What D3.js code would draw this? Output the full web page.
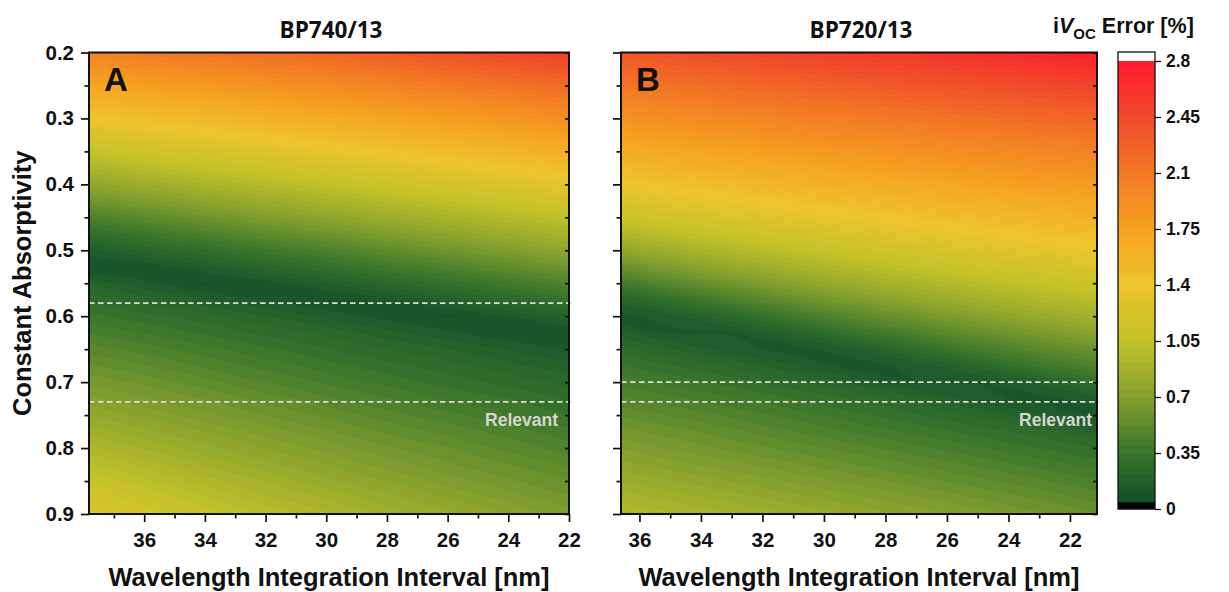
<!DOCTYPE html>
<html>
<head>
<meta charset="utf-8">
<script src="https://cdn.jsdelivr.net/npm/d3@7"></script>
<style>
  body { margin: 0; background: #fff; }
  svg { display: block; }
  text { font-family: "Liberation Sans", Arial, sans-serif; font-weight: bold; fill: #111; }
</style>
</head>
<body>
<svg id="chart" width="1229" height="592"></svg>
<script>
// ---- data -------------------------------------------------------------
// sampled constant absorptivity (rows, top to bottom)
const absorptivity = [0.2, 0.225, 0.25, 0.275, 0.3, 0.325, 0.35, 0.375, 0.4, 0.425,
  0.45, 0.475, 0.5, 0.525, 0.55, 0.575, 0.6, 0.625, 0.65, 0.675,
  0.7, 0.725, 0.75, 0.775, 0.8, 0.825, 0.85, 0.875, 0.9];

// sampled wavelength integration intervals [nm] (columns)
const intervalA = [38, 36, 34, 32, 30, 28, 26, 24, 22];
const intervalB = [37, 35, 33, 31, 29, 27, 25, 23, 21];

// iVoc error [%] for BP740/13, one array per interval column, following `absorptivity`
const errorA = [
  [2.02, 1.86, 1.70, 1.55, 1.39, 1.23, 1.07, 0.91, 0.76, 0.60, 0.44, 0.29, 0.15, 0.09, 0.21, 0.30, 0.37, 0.44, 0.51, 0.58, 0.65, 0.72, 0.79, 0.86, 0.94, 1.02, 1.10, 1.18, 1.26],
  [2.08, 1.93, 1.77, 1.61, 1.46, 1.30, 1.15, 0.99, 0.83, 0.68, 0.52, 0.37, 0.23, 0.10, 0.14, 0.24, 0.32, 0.39, 0.46, 0.53, 0.60, 0.66, 0.73, 0.80, 0.87, 0.95, 1.02, 1.10, 1.17],
  [2.14, 1.98, 1.83, 1.67, 1.52, 1.37, 1.21, 1.06, 0.91, 0.75, 0.60, 0.45, 0.30, 0.16, 0.08, 0.18, 0.28, 0.34, 0.41, 0.47, 0.54, 0.61, 0.67, 0.74, 0.80, 0.87, 0.94, 1.01, 1.08],
  [2.19, 2.04, 1.89, 1.74, 1.59, 1.43, 1.28, 1.13, 0.98, 0.83, 0.68, 0.53, 0.38, 0.24, 0.11, 0.13, 0.22, 0.29, 0.36, 0.42, 0.48, 0.55, 0.61, 0.68, 0.74, 0.80, 0.87, 0.93, 1.00],
  [2.25, 2.10, 1.95, 1.80, 1.65, 1.50, 1.35, 1.20, 1.05, 0.90, 0.75, 0.60, 0.45, 0.31, 0.17, 0.08, 0.16, 0.25, 0.31, 0.37, 0.43, 0.49, 0.56, 0.62, 0.68, 0.74, 0.80, 0.87, 0.93],
  [2.32, 2.17, 2.02, 1.87, 1.72, 1.57, 1.42, 1.27, 1.12, 0.98, 0.83, 0.68, 0.53, 0.39, 0.25, 0.12, 0.11, 0.19, 0.26, 0.32, 0.38, 0.44, 0.50, 0.56, 0.62, 0.68, 0.74, 0.80, 0.86],
  [2.39, 2.24, 2.09, 1.93, 1.78, 1.63, 1.49, 1.34, 1.19, 1.05, 0.90, 0.75, 0.61, 0.46, 0.32, 0.19, 0.08, 0.14, 0.22, 0.28, 0.33, 0.39, 0.45, 0.51, 0.57, 0.62, 0.68, 0.74, 0.80],
  [2.46, 2.31, 2.15, 2.00, 1.85, 1.70, 1.55, 1.41, 1.26, 1.12, 0.97, 0.83, 0.68, 0.54, 0.39, 0.26, 0.13, 0.09, 0.17, 0.23, 0.29, 0.35, 0.40, 0.46, 0.51, 0.57, 0.62, 0.68, 0.74],
  [2.53, 2.37, 2.22, 2.07, 1.92, 1.77, 1.62, 1.48, 1.33, 1.19, 1.04, 0.90, 0.76, 0.61, 0.47, 0.34, 0.20, 0.09, 0.13, 0.19, 0.25, 0.30, 0.35, 0.41, 0.46, 0.52, 0.57, 0.62, 0.68]
];

// iVoc error [%] for BP720/13
const errorB = [
  [2.35, 2.23, 2.11, 1.99, 1.87, 1.75, 1.63, 1.51, 1.38, 1.23, 1.09, 0.92, 0.75, 0.56, 0.37, 0.19, 0.10, 0.20, 0.29, 0.36, 0.43, 0.50, 0.57, 0.64, 0.71, 0.77, 0.84, 0.91, 0.98],
  [2.40, 2.28, 2.16, 2.04, 1.93, 1.81, 1.69, 1.57, 1.44, 1.31, 1.17, 1.02, 0.85, 0.68, 0.50, 0.31, 0.16, 0.12, 0.22, 0.31, 0.38, 0.45, 0.52, 0.59, 0.65, 0.72, 0.79, 0.86, 0.93],
  [2.45, 2.33, 2.21, 2.10, 1.98, 1.86, 1.74, 1.63, 1.50, 1.38, 1.25, 1.11, 0.95, 0.79, 0.62, 0.44, 0.26, 0.13, 0.15, 0.25, 0.33, 0.40, 0.47, 0.54, 0.60, 0.67, 0.74, 0.81, 0.88],
  [2.50, 2.38, 2.26, 2.15, 2.03, 1.92, 1.80, 1.68, 1.57, 1.44, 1.32, 1.18, 1.04, 0.89, 0.73, 0.56, 0.39, 0.21, 0.11, 0.18, 0.27, 0.35, 0.42, 0.48, 0.55, 0.62, 0.69, 0.76, 0.83],
  [2.55, 2.43, 2.31, 2.19, 2.08, 1.97, 1.85, 1.74, 1.62, 1.50, 1.38, 1.25, 1.12, 0.98, 0.83, 0.67, 0.51, 0.34, 0.17, 0.10, 0.20, 0.30, 0.36, 0.43, 0.50, 0.57, 0.64, 0.71, 0.78],
  [2.59, 2.47, 2.36, 2.24, 2.12, 2.01, 1.90, 1.79, 1.67, 1.56, 1.44, 1.32, 1.19, 1.06, 0.92, 0.77, 0.61, 0.46, 0.29, 0.15, 0.13, 0.23, 0.31, 0.38, 0.45, 0.52, 0.59, 0.66, 0.73],
  [2.65, 2.52, 2.40, 2.29, 2.17, 2.06, 1.95, 1.84, 1.73, 1.61, 1.50, 1.38, 1.26, 1.13, 1.00, 0.86, 0.71, 0.56, 0.41, 0.24, 0.13, 0.15, 0.25, 0.33, 0.40, 0.47, 0.54, 0.61, 0.68],
  [2.71, 2.57, 2.45, 2.33, 2.22, 2.10, 1.99, 1.89, 1.78, 1.66, 1.55, 1.44, 1.32, 1.19, 1.07, 0.94, 0.80, 0.65, 0.51, 0.37, 0.19, 0.11, 0.18, 0.28, 0.35, 0.42, 0.49, 0.56, 0.62],
  [2.78, 2.64, 2.50, 2.38, 2.26, 2.15, 2.03, 1.93, 1.82, 1.71, 1.60, 1.49, 1.38, 1.26, 1.13, 1.01, 0.88, 0.74, 0.60, 0.46, 0.32, 0.16, 0.11, 0.20, 0.30, 0.37, 0.44, 0.50, 0.57]
];

// colour map of the error scale
const errorTicks = [0, 0.35, 0.7, 1.05, 1.4, 1.75, 2.1, 2.45, 2.8];
const errorColors = ["#0b4a2a", "#37742c", "#84a02e", "#c2c22a", "#eec52c", "#f6a222", "#f27a24", "#f04a2a", "#ff1a2e"];
const errorLevelCount = 64;

// axis ticks
const absorptivityTicks = [0.2, 0.3, 0.4, 0.5, 0.6, 0.7, 0.8, 0.9];
const absorptivityMinor = [0.25, 0.35, 0.45, 0.55, 0.65, 0.75, 0.85];
const intervalTicks = [36, 34, 32, 30, 28, 26, 24, 22];
const intervalMinorA = [37, 35, 33, 31, 29, 27, 25, 23];
const intervalMinorB = [35, 33, 31, 29, 27, 25, 23];

// relevant absorptivity ranges
const relevantA = [0.58, 0.73];
const relevantB = [0.70, 0.73];

// ---- drawing ----------------------------------------------------------
const svg = d3.select("#chart");
const TOP = 52.5, BOTTOM = 514;

const y = d3.scaleLinear().domain([0.2, 0.9]).range([TOP, BOTTOM]);

const levelStep = 2.8 / errorLevelCount;
const levels = d3.range(errorLevelCount + 1).map(k => k * levelStep);
const color = d3.scaleLinear().domain(errorTicks).range(errorColors)
  .interpolate(d3.interpolateRgb).clamp(true);

function panel(opts) {
  const { id, x, intervals, errors, minor, relevant, labelInset, title, letter, showYLabels } = opts;
  const [x0, x1] = x.range();
  const g = svg.append("g");

  g.append("clipPath").attr("id", "clip" + id)
    .append("rect").attr("x", x0).attr("y", TOP).attr("width", x1 - x0).attr("height", BOTTOM - TOP);

  // grid values, row-major (columns = intervals, rows = absorptivity)
  const n = intervals.length, m = absorptivity.length;
  const values = [];
  for (let j = 0; j < m; j++) for (let i = 0; i < n; i++) values.push(errors[i][j]);

  const dI = intervals[1] - intervals[0];
  const dA = absorptivity[1] - absorptivity[0];
  const proj = d3.geoTransform({
    point(gx, gy) {
      this.stream.point(x(intervals[0] + (gx - 0.5) * dI), y(absorptivity[0] + (gy - 0.5) * dA));
    }
  });
  const path = d3.geoPath(proj);
  const contours = d3.contours().size([n, m]).thresholds(levels)(values);

  g.append("g").attr("clip-path", `url(#clip${id})`)
    .selectAll("path").data(contours).join("path")
    .attr("d", path)
    .attr("fill", d => color(d.value + levelStep / 2))
    .attr("stroke", d => color(d.value + levelStep / 2))
    .attr("stroke-width", 0.4);

  // relevant range markers
  g.selectAll("line.rel").data(relevant).join("line")
    .attr("class", "rel")
    .attr("x1", x0).attr("x2", x1 + 3)
    .attr("y1", d => y(d)).attr("y2", d => y(d))
    .attr("stroke", "#dcdcd4").attr("stroke-width", 1.8).attr("stroke-dasharray", "5.5,3.5");
  g.append("text").attr("x", x1 - labelInset).attr("y", y(relevant[1]) + 24)
    .attr("text-anchor", "end").style("font-size", "17.5px").style("fill", "#d6d6d0")
    .text("Relevant");

  // axes
  const tickStyle = sel => {
    sel.select(".domain").remove();
    sel.selectAll("line").attr("stroke", "#111").attr("stroke-width", 1.7);
    sel.selectAll("text").style("font-size", "20.5px").style("fill", "#111");
  };
  g.append("g").attr("transform", `translate(${x0},0)`)
    .call(d3.axisLeft(y).tickValues(absorptivityTicks).tickSize(8).tickPadding(7)
      .tickFormat(showYLabels ? d3.format(".1f") : () => ""))
    .call(tickStyle);
  g.append("g").attr("transform", `translate(${x0},0)`)
    .call(d3.axisLeft(y).tickValues(absorptivityMinor).tickSize(4.5).tickFormat(() => ""))
    .call(tickStyle);
  g.append("g").attr("transform", `translate(${x1},0)`)
    .call(d3.axisLeft(y).tickValues(absorptivityTicks.concat(absorptivityMinor)).tickSize(4).tickFormat(() => ""))
    .call(tickStyle);
  g.append("g").attr("transform", `translate(0,${BOTTOM})`)
    .call(d3.axisBottom(x).tickValues(intervalTicks).tickSize(8).tickPadding(10).tickFormat(d3.format("d")))
    .call(tickStyle);
  g.append("g").attr("transform", `translate(0,${BOTTOM})`)
    .call(d3.axisBottom(x).tickValues(minor).tickSize(4.5).tickFormat(() => ""))
    .call(tickStyle);

  // frame
  g.append("rect").attr("x", x0).attr("y", TOP).attr("width", x1 - x0).attr("height", BOTTOM - TOP)
    .attr("fill", "none").attr("stroke", "#111").attr("stroke-width", 2);

  // titles
  const cx = (x0 + x1) / 2;
  g.append("text").attr("x", cx + 2).attr("y", 38).attr("text-anchor", "middle")
    .style("font-family", "'Open Sans', sans-serif").style("font-size", "22.5px").text(title);
  g.append("text").attr("x", cx).attr("y", 586).attr("text-anchor", "middle")
    .style("font-size", "25.5px").text("Wavelength Integration Interval [nm]");
  g.append("text").attr("x", x0 + 15).attr("y", 91)
    .style("font-size", "33px").text(letter);
}

panel({
  id: "A", x: d3.scaleLinear().domain([37.82, 22]).range([89, 569]),
  intervals: intervalA, errors: errorA, minor: intervalMinorA, relevant: relevantA, labelInset: 11,
  title: "BP740/13", letter: "A", showYLabels: true
});
panel({
  id: "B", x: d3.scaleLinear().domain([36.6, 21.12]).range([621, 1097]),
  intervals: intervalB, errors: errorB, minor: intervalMinorB, relevant: relevantB, labelInset: 5,
  title: "BP720/13", letter: "B", showYLabels: false
});

// y axis title
svg.append("text").attr("transform", `translate(31,${(TOP + BOTTOM) / 2}) rotate(-90)`)
  .attr("text-anchor", "middle").style("font-size", "25.5px").text("Constant Absorptivity");

// ---- colour bar -------------------------------------------------------
const cbX = 1118, cbW = 37;
const yc = d3.scaleLinear().domain([0, 2.8]).range([509, 61]);
const cb = svg.append("g");
cb.selectAll("rect.lvl").data(levels.slice(0, -1)).join("rect")
  .attr("class", "lvl")
  .attr("x", cbX).attr("width", cbW)
  .attr("y", d => yc(d + levelStep))
  .attr("height", d => yc(d) - yc(d + levelStep) + 0.3)
  .attr("fill", (d, k) => k === 0 ? "#000" : color(d + levelStep / 2));
cb.append("rect").attr("x", cbX).attr("width", cbW)
  .attr("y", yc(2.8) - 9).attr("height", 9).attr("fill", "#fff");
cb.append("rect").attr("x", cbX).attr("width", cbW)
  .attr("y", yc(2.8) - 9).attr("height", yc(0) - yc(2.8) + 9)
  .attr("fill", "none").attr("stroke", "#111").attr("stroke-width", 1.3);
cb.append("g").attr("transform", `translate(${cbX + cbW},0)`)
  .call(d3.axisRight(yc).tickValues(errorTicks).tickSize(6).tickPadding(5)
    .tickFormat(d => d === 0 ? "0" : String(d)))
  .call(s => {
    s.select(".domain").remove();
    s.selectAll("line").attr("stroke", "#111").attr("stroke-width", 1.3);
    s.selectAll("text").style("font-size", "17.5px").style("fill", "#111");
  });

const cbTitle = svg.append("text").attr("x", 1053).attr("y", 33).style("font-size", "21.5px");
cbTitle.append("tspan").text("i");
cbTitle.append("tspan").style("font-style", "italic").text("V");
cbTitle.append("tspan").attr("dy", 6).style("font-size", "15px").text("OC");
cbTitle.append("tspan").attr("dy", -6).text(" Error [%]");
</script>
</body>
</html>
